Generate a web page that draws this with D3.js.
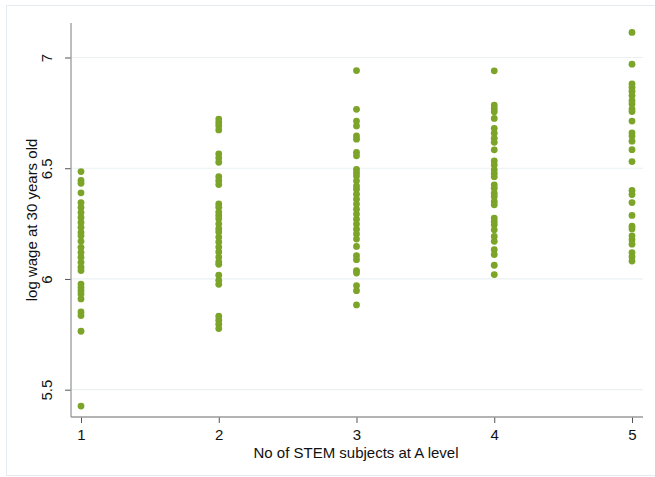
<!DOCTYPE html>
<html>
<head>
<meta charset="utf-8">
<script src="https://cdn.jsdelivr.net/npm/d3@7"></script>
<style>
  body { margin: 0; background: #fff; }
  text { font-family: "Liberation Sans", Arial, sans-serif; fill: #111; }
</style>
</head>
<body>
<svg id="chart" width="655" height="477"></svg>
<script>
// log wage at 30 by number of STEM A levels
var stem1 = [6.485, 6.445, 6.432, 6.389, 6.345, 6.323, 6.30, 6.278, 6.255, 6.233, 6.21, 6.195,
  6.17, 6.143, 6.12, 6.098, 6.075, 6.053, 6.038, 5.977, 5.962, 5.947, 5.932, 5.91, 5.851,
  5.835, 5.764, 5.426];
var stem2 = [6.722, 6.707, 6.692, 6.673, 6.565, 6.547, 6.527, 6.462, 6.444, 6.426, 6.339,
  6.324, 6.302, 6.287, 6.272, 6.249, 6.227, 6.212, 6.189, 6.167, 6.144, 6.122, 6.099, 6.077,
  6.066, 6.017, 5.994, 5.976, 5.832, 5.814, 5.796, 5.776];
var stem3 = [6.941, 6.766, 6.713, 6.691, 6.646, 6.631, 6.571, 6.556, 6.495, 6.48, 6.465,
  6.443, 6.42, 6.405, 6.383, 6.36, 6.338, 6.315, 6.293, 6.27, 6.248, 6.225, 6.203, 6.18,
  6.147, 6.105, 6.087, 6.038, 6.027, 5.97, 5.947, 5.883];
var stem4 = [6.94, 6.785, 6.77, 6.755, 6.725, 6.68, 6.658, 6.635, 6.617, 6.583, 6.533, 6.515,
  6.493, 6.477, 6.462, 6.425, 6.41, 6.387, 6.372, 6.35, 6.335, 6.275, 6.26, 6.245, 6.222,
  6.192, 6.17, 6.132, 6.11, 6.062, 6.02];
var stem5 = [7.113, 6.97, 6.881, 6.866, 6.848, 6.828, 6.805, 6.79, 6.767, 6.756, 6.713, 6.66,
  6.645, 6.622, 6.584, 6.53, 6.40, 6.381, 6.345, 6.287, 6.238, 6.226, 6.195, 6.177, 6.157,
  6.119, 6.10, 6.081];

var xTicks = [1, 2, 3, 4, 5];
var yTicks = [5.5, 6, 6.5, 7];

var svg = d3.select("#chart");

// build point list from the arrays
var groups = [stem1, stem2, stem3, stem4, stem5];
var points = [];
groups.forEach(function(arr, i) {
  arr.forEach(function(v) { points.push({ n: i + 1, w: v }); });
});

var x = d3.scaleLinear().domain([1, 5]).range([81, 632]);
var y = d3.scaleLinear().domain([5.5, 7]).range([389.7, 57.5]);
// plot box edges (don't call it "top", that's window.top)
var plotL = 71, plotR = 643, plotT = 23, plotB = 417;

// faint outer frame
svg.append("rect")
  .attr("x", 6.5).attr("y", 5.5)
  .attr("width", 660).attr("height", 470)
  .attr("fill", "none")
  .attr("stroke", "#e4ecef");

// gridlines
svg.append("g").selectAll("line")
  .data(yTicks)
  .enter().append("line")
  .attr("x1", plotL).attr("x2", plotR)
  .attr("y1", function(d) { return y(d); })
  .attr("y2", function(d) { return y(d); })
  .attr("stroke", "#eaf1f3")
  .attr("stroke-width", 1.2);

// y axis
var yAxis = svg.append("g")
  .attr("transform", "translate(" + plotL + ",0)")
  .call(d3.axisLeft(y).tickValues(yTicks).tickSize(6).tickPadding(4)
    .tickFormat(function(d) { return d3.format("")(d); }));
yAxis.select(".domain").remove();
yAxis.append("line")
  .attr("x1", 0).attr("x2", 0).attr("y1", plotT).attr("y2", plotB)
  .attr("stroke", "#9a9a9a").attr("stroke-width", 1.3);
yAxis.selectAll(".tick line").attr("stroke", "#555");
yAxis.selectAll(".tick text")
  .attr("font-size", 15)
  .attr("text-anchor", "middle")
  .attr("x", 0).attr("dy", 0)
  .attr("transform", "translate(-19,0) rotate(-90)");

// x axis
var xAxis = svg.append("g")
  .attr("transform", "translate(0," + plotB + ")")
  .call(d3.axisBottom(x).tickValues(xTicks).tickSize(6).tickPadding(6)
    .tickFormat(d3.format("d")));
xAxis.select(".domain").remove();
xAxis.append("line")
  .attr("x1", plotL).attr("x2", plotR).attr("y1", 0).attr("y2", 0)
  .attr("stroke", "#9a9a9a").attr("stroke-width", 1.3);
xAxis.selectAll(".tick line").attr("stroke", "#555");
xAxis.selectAll(".tick text").attr("font-size", 15);

// titles
svg.append("text")
  .attr("x", (plotL + plotR) / 2 - 1).attr("y", 458)
  .attr("text-anchor", "middle")
  .attr("font-size", 15)
  .text("No of STEM subjects at A level");

svg.append("text")
  .attr("transform", "translate(37," + ((plotT + plotB) / 2) + ") rotate(-90)")
  .attr("text-anchor", "middle")
  .attr("font-size", 15)
  .text("log wage at 30 years old");

// points
svg.append("g").selectAll("circle")
  .data(points)
  .enter().append("circle")
  .attr("cx", function(d) { return x(d.n); })
  .attr("cy", function(d) { return y(d.w); })
  .attr("r", 3.4)
  .attr("fill", "#7ba428");
</script>
</body>
</html>
